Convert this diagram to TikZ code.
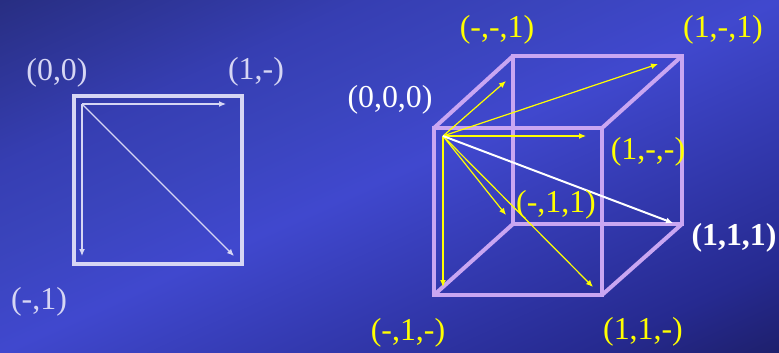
\documentclass[tikz,border=0pt]{standalone}
\usepackage{fontspec}
\setmainfont{Liberation Serif}
\usepackage{tikz}
\usetikzlibrary{positioning,arrows.meta}
\definecolor{bgDeep}{HTML}{1C1D64}
\definecolor{bgLow}{HTML}{262A90}
\definecolor{bgMid}{HTML}{4048CE}
\definecolor{bgUpA}{HTML}{3A44BC}
\definecolor{bgUpB}{HTML}{363EB2}
\definecolor{bgTop}{HTML}{262C7C}
\definecolor{frameLight}{HTML}{D6D6F4}
\definecolor{cubeLilac}{HTML}{C9A6F2}
\definecolor{vecGold}{HTML}{FFFF00}
\pgfdeclareverticalshading{slideBg}{100bp}{color(0bp)=(bgDeep); color(25bp)=(bgDeep); color(32.25bp)=(bgLow); color(50bp)=(bgMid); color(57bp)=(bgUpA); color(62.5bp)=(bgUpB); color(75bp)=(bgTop); color(100bp)=(bgTop)}
\tikzset{
  frameBox/.style={draw=frameLight, line width=4bp, minimum width=168bp, minimum height=168bp, inner sep=0pt},
  cubeEdge/.style={draw=cubeLilac, line width=4bp, line join=miter},
  vec/.style={-{Latex[length=7bp,width=6bp]}, line width=1.2bp},
  vecLight/.style={vec, draw=frameLight, fill=frameLight},
  vecGoldArrow/.style={vec, draw=vecGold, fill=vecGold},
  vecMain/.style={vec, line width=2bp, draw=white, fill=white},
  coordLabel/.style={inner sep=0pt, font=\fontsize{32}{38}\selectfont},
  labelLight/.style={coordLabel, text=frameLight},
  labelGold/.style={coordLabel, text=vecGold},
  labelWhite/.style={coordLabel, text=white}
}

\begin{document}
\begin{tikzpicture}[x=1bp, y=-1bp]
  \useasboundingbox (0,0) rectangle (779,352);
  % slide background
  \begin{scope}
    \clip (0,0) rectangle (779,352);
    \begin{scope}[transform canvas={rotate around={24.3:(389.5,176)}}]
      \shade[shading=slideBg] (-50.5,-164) rectangle (829.5,516);
    \end{scope}
  \end{scope}

  % square
  \node[frameBox] (sq) at (158,180) {};
  \coordinate (o2) at (82,104);
  \coordinate (e2x) at (226,104);
  \coordinate (e2y) at (82,256);
  \coordinate (e2d) at (234,256);
  \draw[vecLight] (o2) -- (e2x);
  \draw[vecLight] (o2) -- (e2y);
  \draw[vecLight] (o2) -- (e2d);
  \node[labelLight] (l00) at (57,73) {(0,0)};
  \node[labelLight] (l10) at (256,72) {(1,-)};
  \node[labelLight] (l01) at (39,302) {(-,1)};

  % cube
  \coordinate (f1) at (434,128);
  \coordinate (f2) at (602,128);
  \coordinate (f3) at (602,295);
  \coordinate (f4) at (434,295);
  \coordinate (b1) at (513,56);
  \coordinate (b2) at (682,56);
  \coordinate (b3) at (682,224);
  \coordinate (b4) at (513,224);
  \draw[cubeEdge] (b1) -- (b2) -- (b3) -- (b4) -- cycle;
  \draw[cubeEdge] (f1) -- (f2) -- (f3) -- (f4) -- cycle;
  \draw[cubeEdge] (f1) -- (b1);
  \draw[cubeEdge] (f2) -- (b2);
  \draw[cubeEdge] (f3) -- (b3);
  \draw[cubeEdge] (f4) -- (b4);

  \coordinate (c0) at (443,136);
  \coordinate (tA) at (506,81);
  \coordinate (tB) at (658,64);
  \coordinate (tC) at (586,136);
  \coordinate (tD) at (673,223);
  \coordinate (tE) at (506,215);
  \coordinate (tF) at (593,287);
  \coordinate (tG) at (443,287);
  \draw[vecGoldArrow] (c0) -- (tA);
  \draw[vecGoldArrow] (c0) -- (tB);
  \draw[vecGoldArrow] (c0) -- (tC);
  \draw[vecGoldArrow] (c0) -- (tE);
  \draw[vecGoldArrow] (c0) -- (tF);
  \draw[vecGoldArrow] (c0) -- (tG);
  \draw[vecMain] (c0) -- (tD);

  \node[labelWhite] (l000) at (390,100) {(0,0,0)};
  \node[labelGold] (lmm1) at (497,30) {(-,-,1)};
  \node[labelGold] (l1m1) at (723,30) {(1,-,1)};
  \node[labelGold] (l1mm) at (648,152) {(1,-,-)};
  \node[labelGold] (lm11) at (556,205) {(-,1,1)};
  \node[labelWhite, font=\fontsize{32}{38}\selectfont\bfseries] (l111) at (734,238) {(1,1,1)};
  \node[labelGold] (lm1m) at (408,333) {(-,1,-)};
  \node[labelGold] (l11m) at (643,332) {(1,1,-)};
\end{tikzpicture}
\end{document}
